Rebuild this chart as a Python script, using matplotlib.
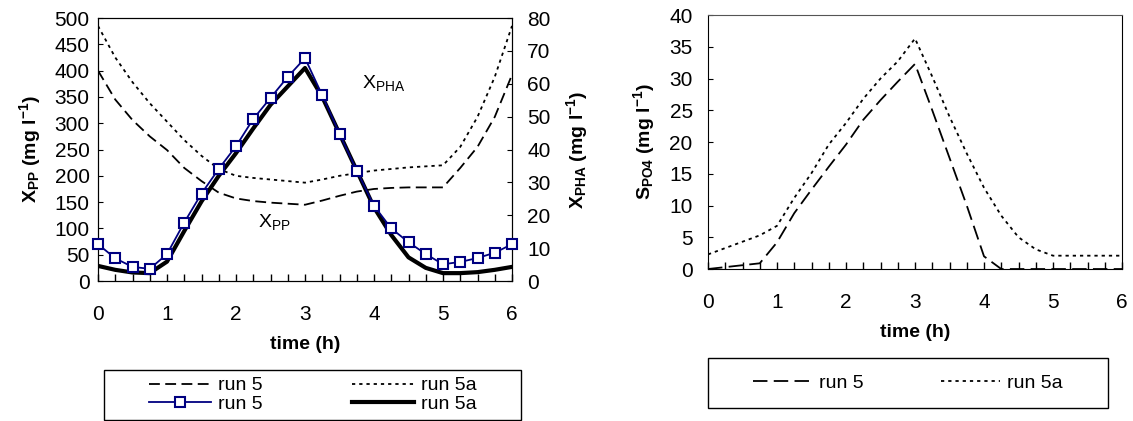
import matplotlib
matplotlib.use("Agg")
import matplotlib.pyplot as plt
from matplotlib.ticker import MultipleLocator
from matplotlib.patches import Rectangle

plt.rcParams['font.family'] = ['Liberation Sans', 'DejaVu Sans']
plt.rcParams['mathtext.default'] = 'regular'

# time grid (h) of the model curves
t = [0, 0.25, 0.5, 0.75, 1, 1.25, 1.5, 1.75, 2, 2.25, 2.5, 2.75, 3,
     3.25, 3.5, 3.75, 4, 4.25, 4.5, 4.75, 5, 5.25, 5.5, 5.75, 6]

# left panel, X_PP (left axis, mg/l)
xpp_run5 = [400, 345, 306, 275, 249, 215, 190, 168, 157, 152, 149, 147, 145,
            153, 162, 170, 175, 177, 178, 178, 178, 215, 255, 312, 392]
xpp_run5a = [485, 425, 378, 338, 303, 268, 238, 213, 200, 196, 193, 190, 187,
             193, 200, 205, 210, 213, 216, 218, 220, 255, 312, 388, 485]

# left panel, X_PHA (right axis, mg/l)
xpha_run5 = [11.2, 6.9, 4.3, 3.7, 8.2, 17.8, 26.6, 34.1, 41.0, 49.3, 55.7, 62.1, 67.8,
             56.5, 44.8, 33.6, 22.9, 16.0, 11.8, 8.2, 5.1, 5.8, 7.0, 8.6, 11.2]
xpha_run5a = [4.6, 3.4, 2.6, 2.4, 5.9, 15.2, 24.2, 32.0, 38.9, 46.4, 53.6, 59.2, 64.8,
              56.0, 44.8, 33.6, 22.4, 14.0, 7.2, 4.0, 2.4, 2.4, 2.7, 3.4, 4.3]

# right panel, S_PO4
spo4_run5 = [0, 0.3, 0.6, 0.9, 4.2, 8.8, 12.5, 16.1, 19.6, 23.5, 26.6, 29.5, 32.3,
             25.0, 17.5, 10.0, 2.0, 0, 0, 0, 0, 0, 0, 0, 0]
spo4_run5a = [2.3, 3.3, 4.3, 5.3, 6.8, 11.2, 15.1, 19.6, 23.0, 26.8, 30.0, 32.7, 36.3,
              30.3, 24.0, 18.2, 12.8, 8.4, 5.0, 3.1, 2.1, 2.1, 2.1, 2.1, 2.1]

dash_l = (0, (6, 3))
dot_l = (0, (1.8, 2.2))
TICK = 15
LAB = 14

fig = plt.figure(figsize=(11.33, 4.21), dpi=100)

# ---- left panel
ax1 = fig.add_axes([0.0865, 0.3325, 0.3654, 0.6247])
l1, = ax1.plot(t, xpp_run5, color='black', lw=1.3, linestyle=dash_l, label='run 5')
l2, = ax1.plot(t, xpp_run5a, color='black', lw=1.3, linestyle=dot_l, label='run 5a')
ax1.set_xlim(0, 6)
ax1.set_ylim(0, 500)
ax1.yaxis.set_major_locator(MultipleLocator(50))
ax1.xaxis.set_major_locator(MultipleLocator(1))
ax1.xaxis.set_minor_locator(MultipleLocator(0.25))
ax1.tick_params(axis='x', which='both', direction='in', length=5, width=1, labelsize=TICK, pad=17)
ax1.tick_params(axis='y', direction='in', length=3.5, labelsize=TICK, pad=6)
ax1.set_xlabel('time (h)', fontsize=LAB, fontweight='bold', labelpad=9)
ax1.set_ylabel(r'X$_{PP}$ (mg l$^{-1}$)', fontsize=LAB, fontweight='bold', labelpad=8)
ax1.text(2.32, 112, r'X$_{PP}$', fontsize=14, va='center')
ax1.text(3.83, 376, r'X$_{PHA}$', fontsize=14, va='center')

ax2 = ax1.twinx()
l3, = ax2.plot(t, xpha_run5, color='#000080', lw=1.3, marker='s', markersize=7,
               markerfacecolor='white', markeredgecolor='#000080', markeredgewidth=1.5,
               label='run 5', clip_on=False, zorder=4)
l4, = ax2.plot(t, xpha_run5a, color='black', lw=3, label='run 5a', zorder=3)
ax2.set_ylim(0, 80)
ax2.yaxis.set_major_locator(MultipleLocator(10))
ax2.tick_params(axis='y', direction='in', length=3.5, labelsize=TICK, pad=11)
ax2.set_ylabel(r'X$_{PHA}$ (mg l$^{-1}$)', fontsize=LAB, fontweight='bold', labelpad=10)

# left legend, box drawn separately
fig.patches.append(Rectangle((0.0918, 0.0024), 0.368, 0.1188, transform=fig.transFigure,
                             facecolor='none', edgecolor='black', lw=1))
fig.legend([l1, l3, l2, l4], ['run 5', 'run 5', 'run 5a', 'run 5a'], ncol=2,
           loc='center', bbox_to_anchor=(0.2758, 0.0618), frameon=False,
           fontsize=14, handlelength=3.2, handletextpad=0.35, columnspacing=4.6,
           labelspacing=0.05, borderpad=0)

# ---- right panel
ax3 = fig.add_axes([0.6249, 0.361, 0.3654, 0.6033])
r1, = ax3.plot(t, spo4_run5, color='black', lw=1.3, linestyle=(0, (8, 3.5)),
               label='run 5', clip_on=False, zorder=3)
r2, = ax3.plot(t, spo4_run5a, color='black', lw=1.3, linestyle=dot_l, label='run 5a')
ax3.set_xlim(0, 6)
ax3.set_ylim(0, 40)
ax3.yaxis.set_major_locator(MultipleLocator(5))
ax3.xaxis.set_major_locator(MultipleLocator(1))
ax3.xaxis.set_minor_locator(MultipleLocator(0.25))
ax3.tick_params(axis='x', which='both', direction='in', length=5, width=1, labelsize=TICK, pad=17)
ax3.tick_params(axis='y', direction='in', length=3.5, labelsize=TICK, pad=11)
ax3.set_xlabel('time (h)', fontsize=LAB, fontweight='bold', labelpad=9)
ax3.set_ylabel(r'S$_{PO4}$ (mg l$^{-1}$)', fontsize=LAB, fontweight='bold', labelpad=9)
ax3.spines['top'].set_color('#555555')

fig.patches.append(Rectangle((0.6249, 0.0309), 0.353, 0.1188, transform=fig.transFigure,
                             facecolor='none', edgecolor='black', lw=1))
fig.legend([r1, r2], ['run 5', 'run 5a'], ncol=2,
           loc='center', bbox_to_anchor=(0.8014, 0.0903), frameon=False,
           fontsize=14, handlelength=3.0, handletextpad=0.4, columnspacing=4.0,
           borderpad=0)

fig.savefig('out.png', dpi=100)
